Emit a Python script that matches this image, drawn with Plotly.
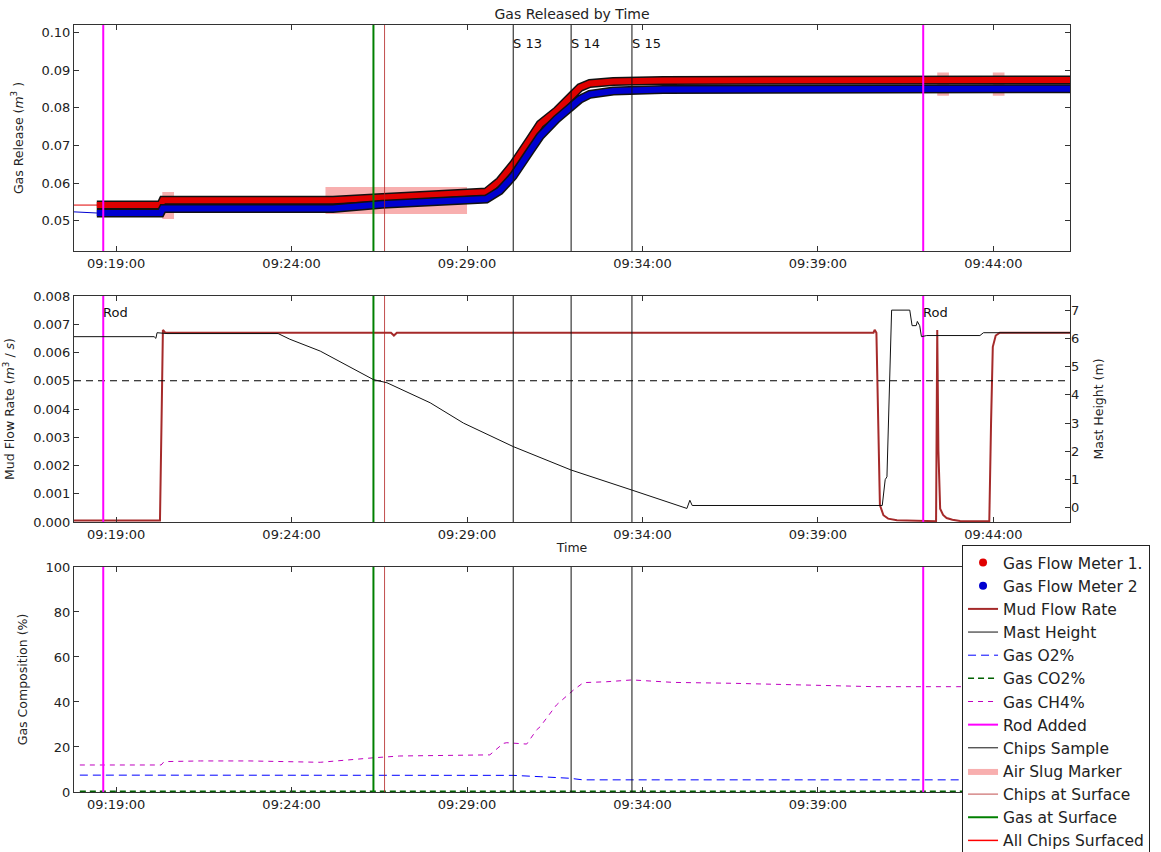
import plotly.graph_objects as go

DAY = "2015-06-10 "

# ---- Gas flow meters (cumulative gas released, m^3) ----
meter_time = ["09:17:48", "09:18:27", "09:20:16", "09:20:20", "09:25:11", "09:26:35",
              "09:28:59", "09:29:33", "09:29:56", "09:30:19", "09:30:48", "09:31:05",
              "09:31:33", "09:31:58", "09:32:13", "09:32:30", "09:33:10", "09:34:35",
              "09:46:11"]
meter1 = [0.0542, 0.0542, 0.0542, 0.0555, 0.0555, 0.0562, 0.0571, 0.0577, 0.0606,
          0.0650, 0.0717, 0.0757, 0.0792, 0.0832, 0.0854, 0.0865, 0.0870, 0.0873, 0.0874]
meter2 = [0.0524, 0.0521, 0.0521, 0.0533, 0.0533, 0.0544, 0.0553, 0.0558, 0.0580,
          0.0619, 0.0686, 0.0725, 0.0770, 0.0805, 0.0823, 0.0836, 0.0845, 0.0849, 0.0851]

# ---- Mud flow rate (m^3/s) ----
mud_time = ["09:17:48", "09:20:15", "09:20:18", "09:20:20", "09:20:24", "09:26:50",
            "09:26:55", "09:27:00", "09:40:35", "09:40:37", "09:40:40", "09:40:46",
            "09:40:52", "09:41:00", "09:41:15", "09:42:22", "09:42:24", "09:42:26",
            "09:42:29", "09:42:34", "09:42:40", "09:42:50", "09:43:03", "09:43:53",
            "09:43:56", "09:43:59", "09:44:04", "09:44:11", "09:46:11"]
mud_flow = [0.00005, 0.00005, 0.0040, 0.0068, 0.0067, 0.0067, 0.0066, 0.0067, 0.0067,
            0.0068, 0.0067, 0.0006, 0.00024, 0.00012, 0.00006, 0.00003, 0.0068, 0.0025,
            0.00047, 0.00025, 0.00014, 0.00008, 0.00004, 0.00003, 0.0035, 0.0062,
            0.0066, 0.0067, 0.0067]
mud_threshold = 0.005

# ---- Mast height (m) ----
mast_time = ["09:17:48", "09:20:05", "09:20:08", "09:20:10", "09:20:27", "09:23:37",
             "09:23:57", "09:24:49", "09:26:20", "09:26:43", "09:27:57", "09:28:54",
             "09:30:19", "09:31:58", "09:33:42", "09:35:16", "09:35:21", "09:35:25",
             "09:40:50", "09:40:55", "09:40:58", "09:41:06", "09:41:37", "09:41:41",
             "09:41:48", "09:41:50", "09:41:54", "09:41:57", "09:42:06", "09:43:37",
             "09:43:43", "09:46:11"]
mast_height = [6.06, 6.06, 6.0, 6.2, 6.17, 6.17, 5.97, 5.55, 4.54, 4.43, 3.72, 3.0,
               2.17, 1.34, 0.63, -0.02, 0.27, 0.085, 0.085, 1.0, 1.1, 7.0, 7.0, 6.45,
               6.45, 6.6, 6.45, 6.06, 6.1, 6.1, 6.2, 6.2]

# ---- Gas composition (%) ----
ch4_time = ["09:17:58", "09:20:17", "09:20:22", "09:21:24", "09:22:49", "09:24:49",
            "09:26:20", "09:27:05", "09:29:39", "09:30:02", "09:30:08", "09:30:42",
            "09:30:59", "09:31:05", "09:31:33", "09:32:02", "09:32:19", "09:32:59",
            "09:33:42", "09:34:53", "09:36:35", "09:38:29", "09:40:37", "09:42:57",
            "09:46:11"]
ch4 = [12.0, 12.0, 13.5, 13.8, 13.8, 13.2, 15.2, 16.0, 16.5, 21.6, 21.9, 21.3, 27.6,
       29.0, 38.7, 45.3, 48.6, 49.0, 49.8, 48.7, 48.3, 47.6, 46.8, 46.8, 46.8]
o2_time = ["09:17:58", "09:30:19", "09:31:05", "09:31:56", "09:32:18", "09:46:11"]
o2 = [7.5, 7.4, 6.8, 6.1, 5.4, 5.4]
co2_time = ["09:17:58", "09:46:11"]
co2 = [0.3, 0.3]

# ---- Events ----
rod_times = ["09:18:38", "09:42:00"]
rod_label = "Rod"
sample_times = ["09:30:19", "09:31:58", "09:33:42"]
sample_labels = ["S 13", "S 14", "S 15"]
gas_surface_times = ["09:26:20"]
chips_surface_times = ["09:26:39"]
all_chips_times = []

slug_start = ["09:20:19", "09:24:58", "09:42:24", "09:43:59"]
slug_end = ["09:20:39", "09:29:00", "09:42:44", "09:44:19"]
slug_low = [0.0505, 0.0518, 0.0832, 0.0832]
slug_high = [0.0577, 0.0590, 0.0894, 0.0894]

x_start, x_end = "09:17:48", "09:46:11"
y1_range = [0.042, 0.102]
y2_range = [0.0, 0.008]
y3_range = [0, 100]
y4_range = [-0.5, 7.5]


def ts(times):
    return [DAY + t for t in times]


def vlines(times, y_range):
    xs, ys = [], []
    for t in times:
        xs += [DAY + t, DAY + t, None]
        ys += [y_range[0], y_range[1], None]
    return xs, ys


FONT = "DejaVu Sans"
fig = go.Figure()

# Air slug boxes (drawn beneath the meter bands)
sx, sy = [], []
for a, b, lo, hi in zip(slug_start, slug_end, slug_low, slug_high):
    sx += [DAY + a, DAY + b, DAY + b, DAY + a, DAY + a, None]
    sy += [lo, lo, hi, hi, lo, None]
fig.add_trace(go.Scatter(x=sx, y=sy, mode="lines", fill="toself",
                         fillcolor="rgba(242,110,110,0.55)", line=dict(width=0),
                         name="Air Slug Marker", legendrank=10,
                         xaxis="x", yaxis="y"))

# Gas meter bands: thin trace line, dark outline, coloured core
for vals, col, nm, rank in [(meter1, "#e00000", "Gas Flow Meter 1.", 1),
                            (meter2, "#0000d0", "Gas Flow Meter 2", 2)]:
    fig.add_trace(go.Scatter(x=ts(meter_time), y=vals, mode="lines",
                             line=dict(color=col, width=1), showlegend=False,
                             xaxis="x", yaxis="y"))
    fig.add_trace(go.Scatter(x=ts(meter_time[1:]), y=vals[1:], mode="lines",
                             line=dict(color="#111111", width=9), showlegend=False,
                             xaxis="x", yaxis="y"))
    fig.add_trace(go.Scatter(x=ts(meter_time[1:]), y=vals[1:], mode="lines",
                             line=dict(color=col, width=6), showlegend=False,
                             xaxis="x", yaxis="y"))
    fig.add_trace(go.Scatter(x=[None], y=[None], mode="markers",
                             marker=dict(color=col, size=8), name=nm,
                             legendrank=rank, xaxis="x", yaxis="y"))

# Mud flow and mast height
fig.add_trace(go.Scatter(x=ts(mast_time), y=mast_height, mode="lines",
                         line=dict(color="#111111", width=1), name="Mast Height",
                         legendrank=4, xaxis="x2", yaxis="y4"))
fig.add_trace(go.Scatter(x=ts(mud_time), y=mud_flow, mode="lines",
                         line=dict(color="#a52a2a", width=2), name="Mud Flow Rate",
                         legendrank=3, xaxis="x2", yaxis="y2"))
fig.add_trace(go.Scatter(x=[DAY + x_start, DAY + x_end], y=[mud_threshold, mud_threshold],
                         mode="lines", line=dict(color="black", width=1.2, dash="7px,5px"),
                         showlegend=False, xaxis="x2", yaxis="y2"))

# Gas composition
fig.add_trace(go.Scatter(x=ts(o2_time), y=o2, mode="lines",
                         line=dict(color="#0000ff", width=1, dash="8px,5px"),
                         name="Gas O2%", legendrank=5, xaxis="x3", yaxis="y3"))
fig.add_trace(go.Scatter(x=ts(co2_time), y=co2, mode="lines",
                         line=dict(color="#006000", width=1.5, dash="6px,4px"),
                         name="Gas CO2%", legendrank=6, xaxis="x3", yaxis="y3"))
fig.add_trace(go.Scatter(x=ts(ch4_time), y=ch4, mode="lines",
                         line=dict(color="#bf00bf", width=1, dash="5px,5px"),
                         name="Gas CH4%", legendrank=7, xaxis="x3", yaxis="y3"))

# Event lines on every panel
events = [
    (rod_times, "#ff00ff", 2, "Rod Added", 8),
    (sample_times, "#111111", 1, "Chips Sample", 9),
    (chips_surface_times, "rgba(178,34,34,0.8)", 1, "Chips at Surface", 11),
    (gas_surface_times, "#008000", 2, "Gas at Surface", 12),
    (all_chips_times, "#ff0000", 1.5, "All Chips Surfaced", 13),
]
panels = [("x", "y", y1_range), ("x2", "y2", y2_range), ("x3", "y3", y3_range)]
for times, col, w, nm, rank in events:
    for i, (xa, ya, yr) in enumerate(panels):
        xs, ys = vlines(times, yr)
        if not xs:
            xs, ys = [None], [None]
        fig.add_trace(go.Scatter(x=xs, y=ys, mode="lines", line=dict(color=col, width=w),
                                 name=nm, showlegend=(i == 0), legendgroup=nm,
                                 legendrank=rank, xaxis=xa, yaxis=ya))

# Labels for chip samples and rods
annotations = []
for t, lab in zip(sample_times, sample_labels):
    annotations.append(dict(x=DAY + t, y=0.92, xref="x", yref="y domain", text=lab,
                            showarrow=False, xanchor="left", yanchor="middle",
                            xshift=-2, font=dict(family=FONT, size=13, color="#111")))
for t in rod_times:
    annotations.append(dict(x=DAY + t, y=0.925, xref="x2", yref="y2 domain", text=rod_label,
                            showarrow=False, xanchor="left", yanchor="middle",
                            xshift=-2, font=dict(family=FONT, size=13, color="#111")))

tick_font = dict(family=FONT, size=13, color="#222")
title_font = dict(family=FONT, size=12.5, color="#222")
x_common = dict(type="date", range=[DAY + x_start, DAY + x_end], tickformat="%H:%M:%S",
                tick0=DAY + "09:19:00", dtick=300000, ticks="inside", ticklen=5,
                tickcolor="#333", showline=True, linecolor="#333", linewidth=1,
                mirror="ticks", showgrid=False, zeroline=False, tickfont=tick_font)
y_common = dict(ticks="inside", ticklen=5, tickcolor="#333", showline=True,
                linecolor="#333", linewidth=1, mirror="ticks", showgrid=False,
                zeroline=False, tickfont=tick_font, title_font=title_font)

fig.update_layout(
    width=1161, height=852,
    margin=dict(l=74, r=91, t=25, b=60, autoexpand=False),
    paper_bgcolor="white", plot_bgcolor="white",
    font=dict(family=FONT, color="#222"),
    title=dict(text="Gas Released by Time", x=0.4927, xanchor="center",
               y=1 - 14 / 852, yanchor="middle", yref="container",
               font=dict(family=FONT, size=14, color="#222")),
    xaxis=dict(domain=[0, 1], anchor="y", **x_common),
    xaxis2=dict(domain=[0, 1], anchor="y2", matches="x",
                title=dict(text="Time", standoff=2, font=title_font), **x_common),
    xaxis3=dict(domain=[0, 1], anchor="y3", matches="x", **x_common),
    yaxis=dict(domain=[0.7053, 1], anchor="x", range=y1_range, tickformat=".2f",
               dtick=0.01, tick0=0.05,
               title=dict(text="Gas Release (<i>m</i><sup>3</sup> )"), **y_common),
    yaxis2=dict(domain=[0.352, 0.6467], anchor="x2", range=y2_range, tickformat=".3f",
                dtick=0.001, title=dict(text="Mud Flow Rate (<i>m</i><sup>3</sup> / <i>s</i>)"),
                **{k: v for k, v in y_common.items() if k != "mirror"}, mirror=True),
    yaxis3=dict(domain=[0, 0.2934], anchor="x3", range=y3_range, dtick=20,
                title=dict(text="Gas Composition (%)"), **y_common),
    yaxis4=dict(overlaying="y2", side="right", anchor="x2", range=y4_range,
                tickvals=[0, 1, 2, 3, 4, 5, 6, 7], ticks="inside", ticklen=5,
                tickcolor="#333", showline=False, showgrid=False, zeroline=False,
                tickfont=tick_font, title=dict(text="Mast Height (m)", font=title_font)),
    legend=dict(x=0.8916, y=0.322, xanchor="left", yanchor="top",
                bgcolor="white", bordercolor="#222", borderwidth=1,
                font=dict(family=FONT, size=15.5, color="#222"),
                traceorder="normal"),
    annotations=annotations,
    showlegend=True,
)

fig.write_html("out.html")
